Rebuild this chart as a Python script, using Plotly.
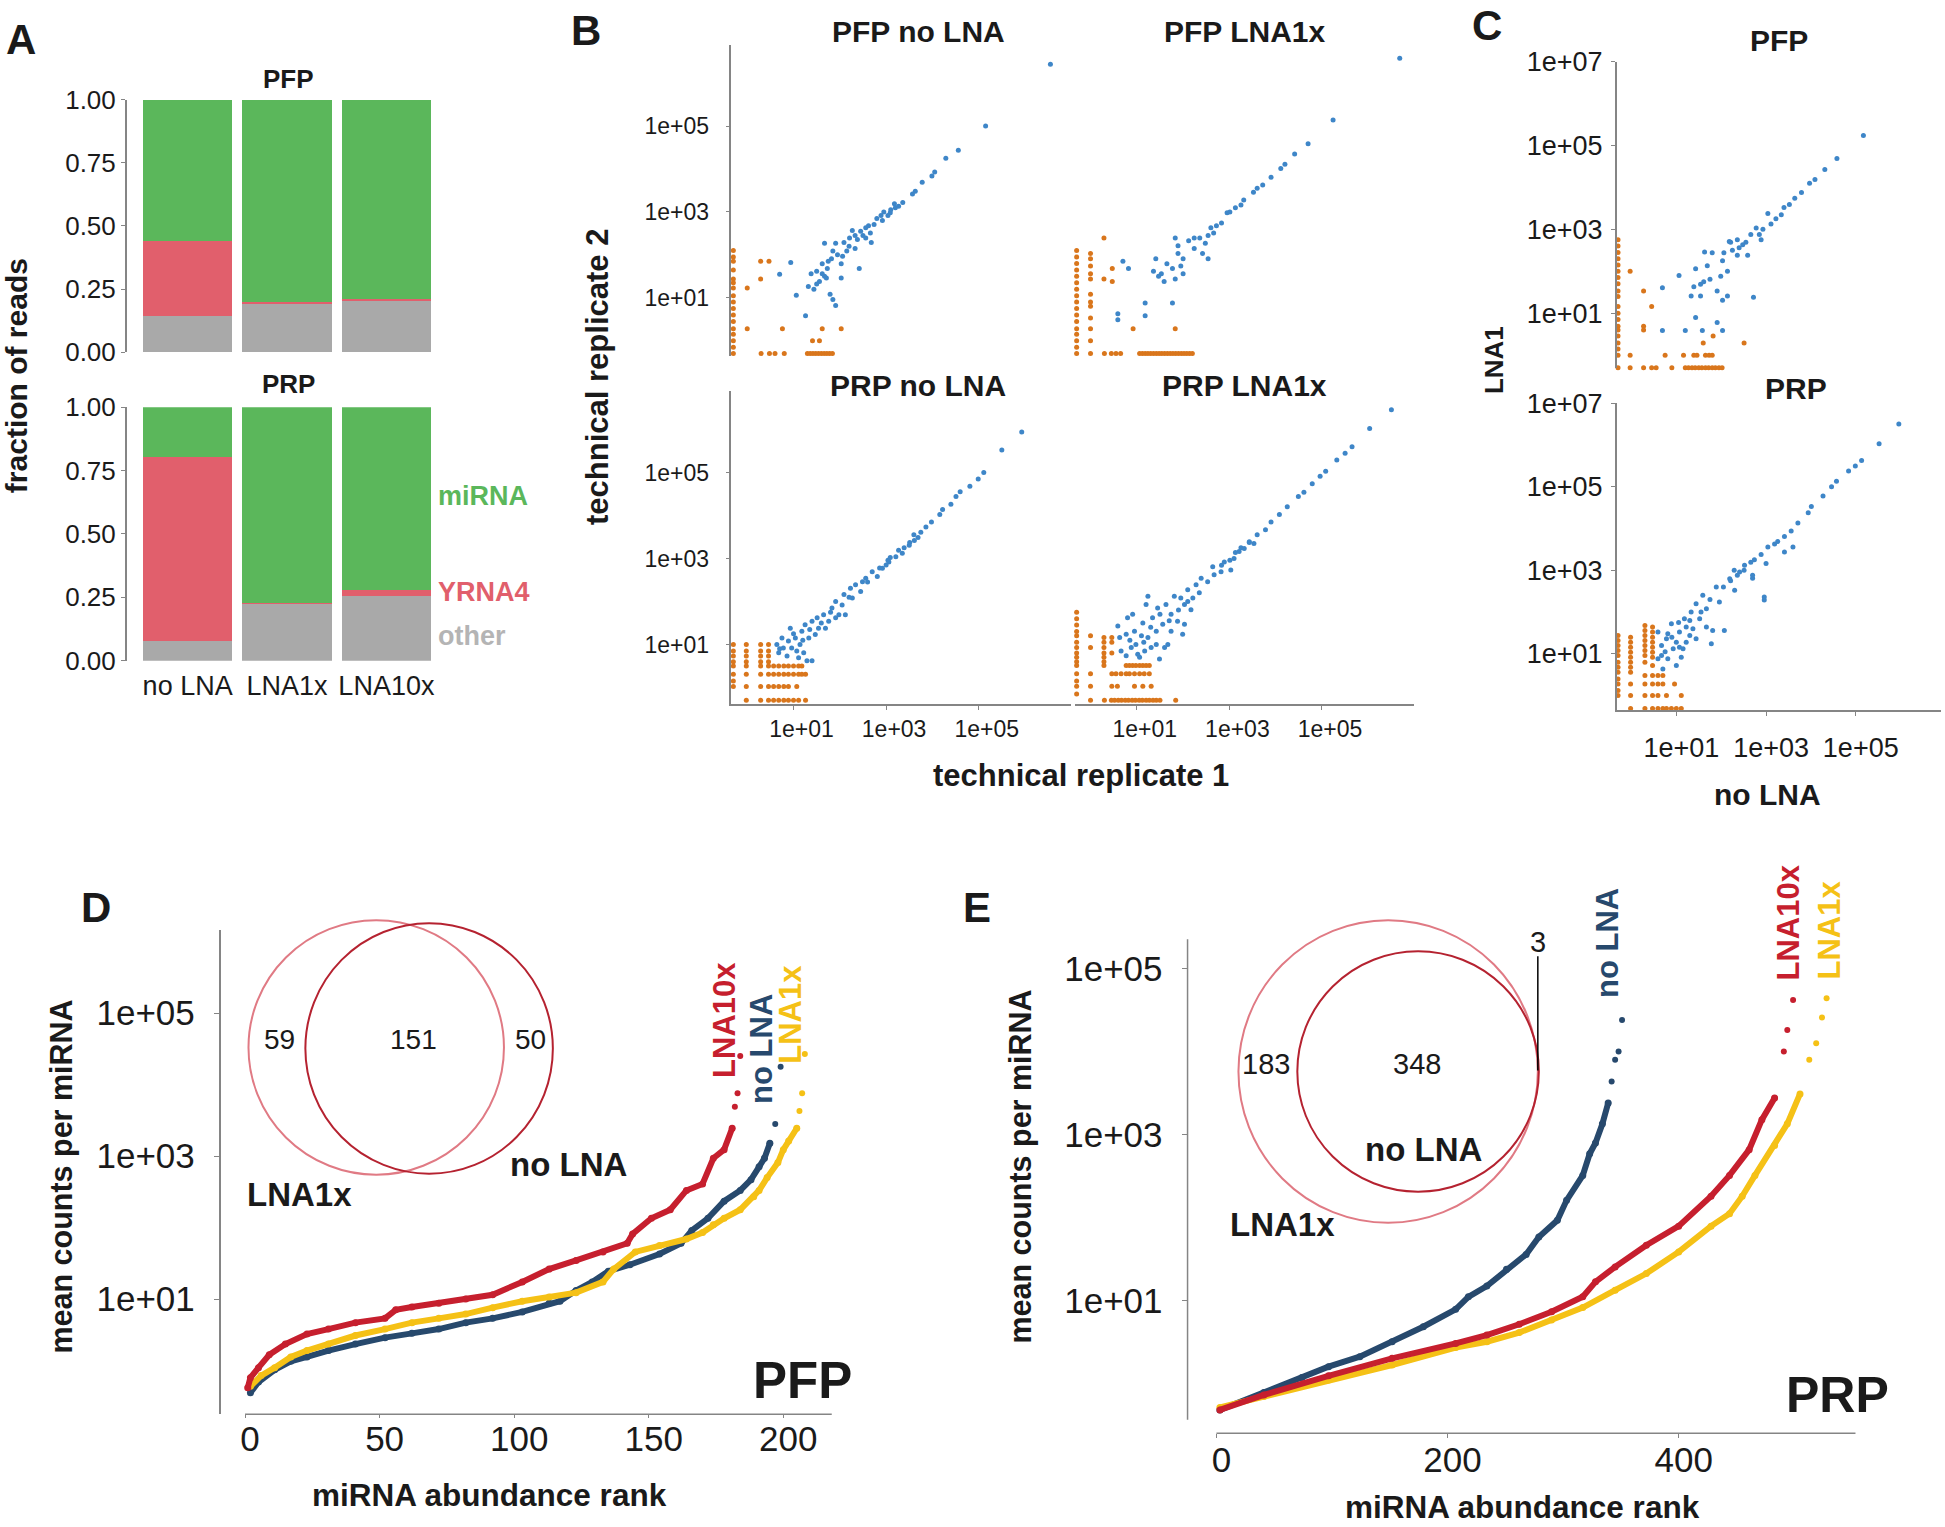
import plotly.graph_objects as go

W, H = 1945, 1527
# the page is photographed with a slight vertical squeeze; map target pixel rows to paper units
Y_OFF, Y_SCALE = 16.5, 0.9785
def px(x): return x / W
def py(y): return 1 - (y - Y_OFF) / (Y_SCALE * H)

MAIN = "Liberation Sans, Arial, Helvetica, sans-serif"
INK = "#1a1a1a"
AXC = "#858585"
GREEN = "#5BB75B"; PINK = "#E15F6C"; GREY = "#A9A9A9"; GREY_TXT = "#B4B4B4"
BLUE_PT = "#3E86C8"; ORANGE_PT = "#D9761C"
C_RED = "#C61F2E"; C_NAVY = "#27496D"; C_YEL = "#F5C116"
VENN_LIGHT = "#E07A84"; VENN_DARK = "#B52230"

# ---------------- data ----------------
A_CATS = ["no LNA", "LNA1x", "LNA10x"]
A_PFP_OTHER = [0.145, 0.195, 0.207]
A_PFP_YRNA4 = [0.297, 0.003, 0.003]
A_PFP_MIRNA = [0.558, 0.802, 0.790]
A_PRP_OTHER = [0.076, 0.224, 0.255]
A_PRP_YRNA4 = [0.729, 0.003, 0.023]
A_PRP_MIRNA = [0.195, 0.773, 0.722]

LOG_TICKS_B = [10, 1000, 100000]
LOG_TEXT_B = ["1e+01", "1e+03", "1e+05"]
LOG_TICKS_C = [10, 1000, 100000, 10000000]
LOG_TEXT_C = ["1e+01", "1e+03", "1e+05", "1e+07"]

# log10 values (x, y); zero counts sit at the -0.3 edge
B_TL_BLUE = [(6.55,6.44),(5.15,5.0),(4.56,4.44),(4.29,4.25),(4.05,3.93),(3.99,3.84),(3.78,3.69),(3.63,3.48),
             (3.57,3.42),(3.36,3.22),(3.27,3.13),(3.18,3.19),(3.09,2.98),(3.04,2.92),(2.89,2.92),(2.92,2.8),
             (2.74,2.71),(2.56,2.63),(2.66,2.51),(2.5,2.45),(2.38,2.36),(2.33,2.15),(2.21,2.39),(2.15,2.09),
             (2.06,1.97),(2.03,1.79),(1.91,2.27),(1.85,2.09),(1.82,1.91),(1.73,1.68),(1.67,1.5),(1.62,1.79),
             (1.56,1.38),(1.5,1.32),(1.44,1.2),(1.62,1.56),(1.85,0.96),(1.91,0.82),(1.79,1.08),(1.67,2.27),
             (1.38,1.56),(1.06,1.06),(1.26,0.58),(0.94,1.82),(0.7,1.55),(2.42,1.68),(2.56,2.39),(2.27,2.57),
             (2.68,2.29),(2.03,1.46),(1.71,1.46),(1.5,1.62),(1.32,1.26),(2.09,2.29),(2.33,2.45),(2.62,2.68),
             (3.1,3.05),(2.8,2.85),(2.45,2.55),(2.2,2.2),(1.95,2.0),(1.75,1.85),(2.95,3.0),(3.2,3.1)]
B_TL_OR_ROWS = [(2.1,[-0.3]),(1.95,[-0.3]),(1.85,[-0.3,0.29,0.47]),(1.65,[-0.3]),(1.44,[-0.3,0.29]),
                (1.35,[-0.3]),(1.23,[-0.3,0.0]),(1.05,[-0.3]),(0.9,[-0.3]),(0.75,[-0.3]),(0.6,[-0.3]),
                (0.45,[-0.3]),(0.28,[-0.3,0.0,0.76,1.62,2.03]),(0.15,[-0.3]),(0.0,[-0.3,1.41,1.56]),
                (-0.15,[-0.3]),
                (-0.3,[-0.3,0.3,0.48,0.6,0.8,1.3,1.36,1.42,1.48,1.54,1.6,1.66,1.72,1.78,1.84])]

B_TR_BLUE = [(6.68,6.58),(5.24,5.14),(4.7,4.59),(4.41,4.35),(4.2,4.11),(4.11,4.01),(3.9,3.81),(3.72,3.63),
             (3.6,3.55),(3.52,3.46),(3.31,3.28),(3.25,3.16),(3.13,3.1),(2.95,2.98),(3.01,3.0),(2.83,2.74),
             (2.72,2.68),(2.6,2.63),(2.54,2.45),(2.66,2.51),(2.48,2.27),(2.36,2.39),(2.24,2.39),(2.42,2.03),
             (2.54,1.91),(2.24,2.15),(2.0,1.91),(1.89,2.03),(1.83,2.39),(1.77,1.68),(1.65,1.79),(1.53,1.56),
             (1.41,1.91),(1.36,1.62),(2.0,1.56),(1.83,1.44),(1.59,1.38),(1.47,1.5),(1.77,0.88),(1.18,0.88),
             (1.18,0.58),(0.59,0.63),(0.59,0.49),(0.82,1.68),(0.7,1.85),(1.95,1.74),(2.12,2.33),(1.89,2.21)]
B_TR_OR_ROWS = [(2.39,[0.29]),(2.1,[-0.3]),(2.03,[0.0]),(1.95,[-0.3]),(1.91,[0.0]),(1.8,[-0.3]),(1.74,[0.0]),
                (1.68,[0.47]),(1.65,[-0.3]),(1.56,[0.0]),(1.5,[-0.3]),(1.44,[0.0,0.29]),(1.38,[0.47]),
                (1.35,[-0.3]),(1.2,[-0.3]),(1.08,[0.0]),(1.05,[-0.3]),(0.9,[-0.3,0.0]),(0.8,[0.0]),
                (0.75,[-0.3]),(0.6,[-0.3]),(0.53,[0.0]),(0.45,[-0.3]),(0.28,[-0.3,0.0,0.92,1.83]),
                (0.15,[-0.3]),(0.0,[-0.3,0.0]),(-0.15,[-0.3]),
                (-0.3,[-0.3,0.0,0.3,0.45,0.55,0.65,1.06,1.12,1.18,1.24,1.3,1.36,1.42,1.48,1.54,1.6,1.66,
                       1.72,1.78,1.84,1.9,1.96,2.02,2.08,2.14,2.2])]

B_BL_BLUE = [(5.93,5.94),(5.5,5.52),(5.11,5.0),(4.99,4.85),(4.81,4.68),(4.51,4.44),(4.4,4.26),(4.22,4.14),
             (3.98,3.85),(3.86,3.73),(3.75,3.61),(3.51,3.37),(3.39,3.25),(3.09,3.02),(3.04,2.96),(2.86,2.78),
             (3.27,3.19),(3.69,3.49),(4.16,4.02),(3.6,3.55),(4.6,4.55),
             (0.64,1.0),(0.68,0.81),(0.78,0.92),(0.89,1.08),(0.93,1.38),(1.04,1.15),(1.07,0.85),(1.14,1.0),
             (1.18,1.31),(1.25,1.46),(1.33,1.15),(1.4,1.54),(1.4,0.62),(1.29,0.62),(1.51,1.62),(1.54,1.38),
             (1.65,1.69),(1.76,1.54),(1.83,1.85),(1.91,2.0),(1.98,1.69),(2.09,2.16),(2.12,1.69),(2.23,2.31),
             (2.34,2.39),(2.45,2.23),(2.56,2.54),(2.7,2.69),(2.81,2.58),(2.92,2.77),(3.06,2.92),(3.21,3.04),
             (3.35,3.12),(3.5,3.31),(3.61,3.42),(0.96,0.92),(0.86,0.73),(0.75,1.15),(1.11,0.69),(1.22,0.81),
             (1.47,1.23),(1.69,1.38),(2.05,1.92),(1.91,1.62),(2.49,2.46),(2.27,2.08),(0.7,0.9),(1.0,1.25),
             (1.2,1.1),(1.35,1.35),(1.6,1.5),(1.8,1.75),(2.2,2.1),(2.6,2.45),(3.0,2.85)]
B_BL_OR_ROWS = [(1.0,[-0.3,-0.02,0.29,0.46]),(0.85,[-0.3,-0.02,0.29,0.46]),(0.73,[-0.3,-0.02,0.29,0.46]),
                (0.6,[-0.3,-0.02,0.29,0.46]),
                (0.5,[-0.3,-0.02,0.29,0.46,0.57,0.68,0.79,0.89,1.0,1.11,1.18]),
                (0.31,[-0.3,-0.02,0.29,0.46,0.57,0.68,0.79,0.89,1.0,1.11,1.18,1.26]),
                (0.15,[-0.3]),
                (0.02,[-0.3,-0.02,0.29,0.46,0.57,0.68,0.79,0.89,1.07]),
                (-0.3,[-0.02,0.29,0.46,0.57,0.68,0.79,0.89,1.0,1.11,1.26])]

B_BR_BLUE = [(6.5,6.46),(6.03,6.02),(5.65,5.6),(5.5,5.45),(5.32,5.29),(5.08,5.03),(4.96,4.91),(4.79,4.74),
             (4.61,4.54),(4.49,4.44),(4.25,4.2),(4.08,4.02),(3.9,3.85),(3.78,3.67),(3.6,3.55),(3.43,3.37),
             (3.25,3.25),(3.13,3.14),(3.01,2.96),(2.83,2.84),
             (0.59,1.43),(0.63,1.16),(0.66,0.85),(0.77,0.74),(0.8,1.62),(0.91,1.7),(0.95,1.31),(0.98,1.0),
             (1.06,0.7),(1.13,1.5),(1.2,1.93),(1.24,1.16),(1.34,1.62),(1.42,1.31),(1.49,0.66),(1.45,1.85),
             (1.56,1.47),(1.63,1.93),(1.67,1.0),(1.74,1.7),(1.81,2.12),(1.88,1.54),(1.95,2.08),(1.99,1.24),
             (2.03,1.93),(2.1,2.27),(2.17,1.81),(2.21,2.08),(2.28,2.39),(2.35,2.2),(2.39,2.54),(2.53,2.46),
             (2.64,2.81),(2.67,2.62),(2.82,2.69),(2.89,2.92),(3.03,2.73),(3.1,3.0),(3.21,3.16),(3.32,3.23),
             (3.43,3.39),(3.53,3.35),(0.88,0.93),(1.02,0.77),(1.31,0.93),(1.17,0.85),(0.77,1.24),(1.42,1.0),
             (1.24,2.12),(1.6,0.93),(1.74,1.31),(2.03,1.47),(1.1,1.2),(1.3,1.4),(1.5,1.7),(1.7,1.55),
             (1.9,1.8),(2.1,2.0),(0.85,1.1),(1.15,1.05)]
B_BR_OR_ROWS = [(1.75,[-0.3]),(1.6,[-0.3]),(1.45,[-0.3]),(1.3,[-0.3]),(1.2,[-0.3,0.0]),(1.16,[0.29,0.46]),
                (1.05,[-0.3,0.29,0.46]),(0.93,[-0.3,0.0,0.29]),(0.8,[-0.3,0.29,0.46]),(0.7,[-0.3,0.29]),
                (0.6,[-0.3,0.29]),(0.51,[-0.3,0.29,0.77,0.84,0.91,0.98,1.06,1.13,1.2,1.27]),
                (0.32,[-0.3,0.0,0.46,0.55,0.66,0.77,0.84,0.95,1.06,1.16,1.27]),(0.15,[-0.3]),
                (0.03,[-0.3,0.0,0.46,0.58,0.95,1.13,1.31]),(-0.15,[-0.3]),
                (-0.3,[0.0,0.3,0.45,0.52,0.6,0.67,0.75,0.82,0.9,0.97,1.05,1.12,1.2,1.27,1.35,1.42,1.5,1.84])]

C_TOP_BLUE = [(5.17,5.24),(4.58,4.69),(4.31,4.43),(4.09,4.19),(3.97,4.1),(3.79,3.88),(3.64,3.74),(3.52,3.59),
              (3.4,3.52),(3.34,3.35),(3.22,3.25),(3.11,3.13),(3.04,3.38),(2.93,3.0),(2.85,2.88),(2.89,2.75),
              (2.78,3.03),(2.66,2.88),(2.55,2.69),(2.48,2.63),(2.4,2.56),(2.36,2.38),(2.21,2.69),(2.18,2.71),
              (2.25,2.5),(2.06,2.44),(2.03,2.25),(2.14,2.0),(1.99,1.88),(1.8,2.44),(1.63,2.46),(1.69,2.13),
              (1.54,1.69),(1.61,1.75),(1.75,1.81),(1.39,1.63),(1.43,2.06),(1.33,1.41),(1.54,1.41),(1.91,1.53),
              (2.03,1.31),(2.14,1.41),(2.72,1.38),(1.43,0.9),(1.58,0.59),(1.91,0.78),(2.03,0.59),(1.2,0.59),
              (0.69,0.59),(0.69,1.61),(1.06,1.9),(2.59,2.38),(2.36,2.75)]
C_TOP_OR_ROWS = [(2.75,[-0.3]),(2.6,[-0.3]),(2.45,[-0.3]),(2.3,[-0.3]),(2.15,[-0.3]),(2.0,[-0.3,-0.03]),
                 (1.85,[-0.3]),(1.7,[-0.3]),(1.53,[-0.3,0.27]),(1.4,[-0.3]),(1.16,[-0.3,0.45]),(1.0,[-0.3]),
                 (0.85,[-0.3]),(0.69,[-0.3,0.27]),(0.6,[-0.3,0.27]),(0.46,[-0.3,1.82]),(0.29,[-0.3,1.6,2.51]),
                 (0.15,[-0.3]),(0.0,[-0.3,-0.03,0.75,1.16,1.39,1.46,1.65,1.73,1.8]),
                 (-0.3,[-0.3,-0.03,0.27,0.45,0.55,0.9,1.2,1.27,1.35,1.42,1.5,1.57,1.65,1.72,1.8,1.87,1.95,2.02])]

C_BOT_BLUE = [(5.96,6.5),(5.52,6.03),(5.13,5.63),(4.99,5.5),(4.84,5.38),(4.57,5.13),(4.46,5.0),(4.27,4.78),
              (4.01,4.53),(3.94,4.38),(3.71,4.13),(3.56,3.94),(3.41,3.81),(3.26,3.69),(3.19,3.63),(3.04,3.56),
              (2.89,3.38),(2.74,3.25),(2.66,3.19),(2.51,3.0),(2.36,2.88),(2.21,2.75),(3.6,3.56),(3.41,3.44),
              (2.29,3.0),(2.96,2.29),(2.7,2.81),
              (0.59,1.52),(0.59,0.88),(0.67,1.2),(0.7,0.64),(0.78,1.36),(0.81,0.88),(0.89,1.72),(0.93,1.12),
              (1.0,0.72),(1.07,1.52),(1.11,0.92),(1.18,1.84),(1.22,1.28),(1.33,2.0),(1.37,1.6),(1.44,2.2),
              (1.52,1.84),(1.59,2.4),(1.67,2.08),(1.78,1.24),(1.81,1.56),(1.89,2.6),(1.96,2.24),(2.07,1.56),
              (2.19,2.8),(2.3,2.52),(2.41,2.96),(2.52,3.12),(2.7,2.88),(2.96,2.36),(3.0,3.16),(0.81,1.48),
              (1.0,1.28),(1.15,1.12),(1.3,1.44),(1.44,1.36),(1.07,1.16),(1.67,1.64),(1.22,1.64),(0.67,0.96),
              (0.75,1.05),(0.9,1.4),(1.05,1.75),(1.3,1.8),(1.55,2.0),(1.75,2.3),(2.05,2.6)]
C_BOT_OR_ROWS = [(1.68,[0.3]),(1.64,[0.47]),(1.56,[0.3]),(1.52,[0.47]),(1.44,[-0.3,0.3]),(1.4,[-0.02,0.47]),
                 (1.32,[-0.3,0.3]),(1.28,[-0.02,0.47]),(1.2,[-0.3,0.3]),(1.16,[-0.02,0.47]),(1.08,[-0.3,0.3]),
                 (1.04,[-0.02,0.47]),(0.96,[-0.3,0.3]),(0.92,[-0.02,0.47]),(0.8,[-0.3,-0.02,0.3]),
                 (0.72,[0.47]),(0.68,[-0.3,-0.02]),(0.56,[-0.3,-0.02]),(0.48,[0.3,0.47,0.59,0.7]),
                 (0.4,[-0.3]),(0.28,[-0.3,-0.02,0.3,0.47,0.59,0.7,0.96]),(0.12,[-0.3]),
                 (0.0,[-0.3,-0.02,0.3,0.47,0.59,0.78,1.11]),
                 (-0.31,[-0.02,0.3,0.47,0.59,0.7,0.78,0.89,1.0,1.11])]

# D (PFP): rank vs log10(mean counts)
D_RED_RANK = [1,2,5,9,15,23,31,41,52,56,62,72,82,92,103,113,123,133,142,144,151,158,164,170,174,178,181,182,183,184]
D_RED_LOG = [-0.24,-0.1,0.04,0.22,0.37,0.51,0.58,0.67,0.73,0.85,0.89,0.94,1.0,1.06,1.24,1.42,1.54,1.66,1.78,1.91,
             2.13,2.25,2.52,2.61,2.97,3.09,3.39,3.69,3.88,4.4]
D_NAVY_RANK = [2,5,11,17,23,31,41,52,62,72,82,92,103,113,117,123,129,135,143,154,162,166,172,178,184,188,191,193,195,197,199]
D_NAVY_LOG = [-0.31,-0.16,0.01,0.13,0.19,0.28,0.37,0.46,0.52,0.58,0.67,0.73,0.82,0.94,0.97,1.12,1.24,1.39,1.48,
              1.63,1.78,1.96,2.13,2.37,2.52,2.67,2.85,2.97,3.18,3.45,4.25]
D_YEL_RANK = [2,6,11,17,23,31,41,52,62,72,82,92,103,113,123,133,137,145,154,164,170,174,178,184,189,191,194,198,200,202,205,206,207,208]
D_YEL_LOG = [-0.22,-0.07,0.04,0.19,0.28,0.37,0.49,0.58,0.67,0.73,0.79,0.88,0.97,1.03,1.09,1.24,1.42,1.66,1.75,
             1.84,1.93,2.04,2.13,2.25,2.43,2.52,2.7,2.91,3.09,3.21,3.39,3.63,3.88,4.43]

# E (PRP)
E_NAVY_RANK = [3,41,74,97,124,152,179,207,218,234,251,268,279,295,303,317,323,328,334,339,342,345,348,351]
E_NAVY_LOG = [-0.31,-0.1,0.08,0.21,0.33,0.51,0.69,0.9,1.05,1.18,1.38,1.56,1.77,1.97,2.21,2.51,2.77,2.9,3.13,
              3.38,3.64,3.9,4.0,4.38]
E_RED_RANK = [3,41,97,152,207,234,262,290,317,328,345,372,400,428,444,461,472,483,491,494,499]
E_RED_LOG = [-0.31,-0.13,0.1,0.31,0.49,0.59,0.72,0.87,1.05,1.23,1.41,1.67,1.9,2.26,2.51,2.82,3.18,3.44,4.0,4.26,4.62]
E_YEL_RANK = [3,41,97,152,207,234,262,290,317,345,372,400,428,444,455,466,483,494,505,513,519,524,528]
E_YEL_LOG = [-0.28,-0.15,0.05,0.23,0.44,0.51,0.62,0.77,0.92,1.13,1.33,1.59,1.9,2.05,2.26,2.51,2.87,3.13,3.49,
             3.9,4.1,4.41,4.64]

# ---------------- figure ----------------
fig = go.Figure()

def bars(xa, ya, other, yrna, mirna):
    for vals, col in ((other, GREY), (yrna, PINK), (mirna, GREEN)):
        fig.add_trace(go.Bar(x=A_CATS, y=vals, marker=dict(color=col, line=dict(width=0)),
                             width=0.9, xaxis=xa, yaxis=ya))

bars("x", "y", A_PFP_OTHER, A_PFP_YRNA4, A_PFP_MIRNA)
bars("x2", "y2", A_PRP_OTHER, A_PRP_YRNA4, A_PRP_MIRNA)

def scat(xa, ya, blue, rows):
    ox, oy = [], []
    for yv, xs in rows:
        for xv in xs:
            ox.append(10 ** xv); oy.append(10 ** yv)
    fig.add_trace(go.Scatter(x=ox, y=oy, mode="markers", marker=dict(color=ORANGE_PT, size=5),
                             xaxis=xa, yaxis=ya, cliponaxis=False))
    fig.add_trace(go.Scatter(x=[10 ** a for a, b in blue], y=[10 ** b for a, b in blue], mode="markers",
                             marker=dict(color=BLUE_PT, size=5), xaxis=xa, yaxis=ya, cliponaxis=False))

scat("x3", "y3", B_TL_BLUE, B_TL_OR_ROWS)
scat("x4", "y4", B_TR_BLUE, B_TR_OR_ROWS)
scat("x5", "y5", B_BL_BLUE, B_BL_OR_ROWS)
scat("x6", "y6", B_BR_BLUE, B_BR_OR_ROWS)
scat("x7", "y7", C_TOP_BLUE, C_TOP_OR_ROWS)
scat("x8", "y8", C_BOT_BLUE, C_BOT_OR_ROWS)

def curve(xa, ya, ranks, logs, color, tail):
    n = len(ranks) - tail
    vals = [10 ** v for v in logs]
    fig.add_trace(go.Scatter(x=ranks[:n + 1], y=vals[:n + 1], mode="lines+markers",
                             line=dict(color=color, width=6), marker=dict(color=color, size=7),
                             xaxis=xa, yaxis=ya, cliponaxis=False))
    fig.add_trace(go.Scatter(x=ranks[n:], y=vals[n:], mode="markers", marker=dict(color=color, size=6),
                             xaxis=xa, yaxis=ya, cliponaxis=False))

curve("x9", "y9", D_NAVY_RANK, D_NAVY_LOG, C_NAVY, 3)
curve("x9", "y9", D_YEL_RANK, D_YEL_LOG, C_YEL, 4)
curve("x9", "y9", D_RED_RANK, D_RED_LOG, C_RED, 4)
curve("x10", "y10", E_NAVY_RANK, E_NAVY_LOG, C_NAVY, 5)
curve("x10", "y10", E_YEL_RANK, E_YEL_LOG, C_YEL, 5)
curve("x10", "y10", E_RED_RANK, E_RED_LOG, C_RED, 4)

# ---------------- axes ----------------
def xdom(a, b): return [px(a), px(b)]
def ydom(bottom, top): return [py(bottom), py(top)]

base = dict(showgrid=False, zeroline=False, linecolor=AXC, linewidth=1.5, tickcolor=AXC)

def hidden(**kw):
    d = dict(base, showline=False, ticks="", showticklabels=False); d.update(kw); return d

def shown(**kw):
    d = dict(base, showline=True, ticks="outside", ticklen=4, showticklabels=True); d.update(kw); return d

lay = dict(width=W, height=H, margin=dict(l=0, r=0, t=0, b=0), autosize=False,
           plot_bgcolor="white", paper_bgcolor="white", showlegend=False, barmode="stack")

A_YT = dict(tickvals=[0, 0.25, 0.5, 0.75, 1], ticktext=["0.00", "0.25", "0.50", "0.75", "1.00"],
            tickfont=dict(family=MAIN, size=26, color=INK), range=[0, 1])
A_XR = [-0.613, 2.45]
lay["xaxis"] = hidden(domain=xdom(127, 432), range=A_XR, type="category", anchor="y")
lay["yaxis"] = shown(domain=ydom(353, 101), anchor="x", **A_YT)
lay["xaxis2"] = hidden(domain=xdom(127, 432), range=A_XR, type="category", anchor="y2",
                       showticklabels=True, tickfont=dict(family=MAIN, size=27, color=INK),
                       ticklabelstandoff=6)
lay["yaxis2"] = shown(domain=ydom(661, 408), anchor="x2", **A_YT)

BT = dict(type="log", tickvals=LOG_TICKS_B, ticktext=LOG_TEXT_B, tickfont=dict(family=MAIN, size=23, color=INK))
XR = [-0.34, 6.99]
lay["xaxis3"] = hidden(domain=xdom(733, 1073), range=XR, anchor="y3", type="log")
lay["yaxis3"] = shown(domain=ydom(357, 46), range=[-0.36, 6.9], anchor="x3", ticklabelstandoff=12, **BT)
lay["xaxis4"] = hidden(domain=xdom(1077, 1417), range=XR, anchor="y4", type="log")
lay["yaxis4"] = hidden(domain=ydom(357, 46), range=[-0.36, 6.9], anchor="x4", type="log")
lay["xaxis5"] = shown(domain=xdom(733, 1073), range=XR, anchor="y5", ticklabelstandoff=0, ticklabelshift=8, **BT)
lay["yaxis5"] = shown(domain=ydom(704, 392), range=[-0.38, 6.89], anchor="x5", ticklabelstandoff=12, **BT)
lay["xaxis6"] = shown(domain=xdom(1077, 1417), range=XR, anchor="y6", ticklabelstandoff=0, ticklabelshift=8, **BT)
lay["yaxis6"] = hidden(domain=ydom(704, 392), range=[-0.38, 6.89], anchor="x6", type="log")

CT = dict(type="log", tickvals=LOG_TICKS_C, ticktext=LOG_TEXT_C, tickfont=dict(family=MAIN, size=27, color=INK))
lay["xaxis7"] = hidden(domain=xdom(1620, 1945), range=[-0.33, 6.9], anchor="y7", type="log")
lay["yaxis7"] = shown(domain=ydom(369, 63), range=[-0.31, 7.0], anchor="x7", ticklabelstandoff=3, **CT)
lay["xaxis8"] = shown(domain=xdom(1620, 1945), range=[-0.33, 6.9], anchor="y8", ticklabelstandoff=9,
                      ticklabelshift=5, **CT)
lay["yaxis8"] = shown(domain=ydom(710, 404), range=[-0.34, 7.0], anchor="x8", ticklabelstandoff=3, **CT)

DT = dict(tickfont=dict(family=MAIN, size=35, color=INK))
lay["xaxis9"] = shown(domain=xdom(221, 834), range=[-9.1, 218.2], anchor="y9", showline=False,
                      tickvals=[0, 50, 100, 150, 200], ticklen=3, ticklabelstandoff=-9, ticklabelshift=5, **DT)
lay["yaxis9"] = shown(domain=ydom(1413, 930), range=[-0.61, 6.16], anchor="x9", type="log", ticklen=5,
                      tickvals=LOG_TICKS_B, ticktext=LOG_TEXT_B, ticklabelstandoff=12, **DT)
lay["xaxis10"] = shown(domain=xdom(1190, 1860), range=[-25.0, 553.6], anchor="y10", showline=False,
                       tickvals=[0, 200, 400], ticklen=4, ticklabelstandoff=-8, ticklabelshift=5, **DT)
lay["yaxis10"] = shown(domain=ydom(1432, 939), range=[-0.59, 5.35], anchor="x10", type="log", showline=False,
                       ticklen=5, tickvals=LOG_TICKS_B, ticktext=LOG_TEXT_B, ticklabelstandoff=12, **DT)

shapes = [
    dict(type="line", xref="x9", yref="y9 domain", x0=0, x1=218, y0=0, y1=0, line=dict(color=AXC, width=1.5)),
    dict(type="line", xref="x10", yref="y10 domain", x0=0, x1=553, y0=0, y1=0, line=dict(color=AXC, width=1.5)),
    dict(type="line", xref="x10 domain", yref="y10 domain", x0=0, x1=0, y0=0.027, y1=1,
         line=dict(color=AXC, width=1.5)),
]

def circle(cx, cy, rx, ry, col):
    shapes.append(dict(type="circle", xref="paper", yref="paper", x0=px(cx - rx), x1=px(cx + rx),
                       y0=py(cy + ry), y1=py(cy - ry), line=dict(color=col, width=2)))

circle(377, 1047, 128, 127, VENN_LIGHT)
circle(430, 1048, 124, 125, VENN_DARK)
circle(1391, 1071, 150, 151, VENN_LIGHT)
circle(1421, 1071, 121, 120, VENN_DARK)
shapes.append(dict(type="line", xref="paper", yref="paper", x0=px(1541), x1=px(1541), y0=py(956), y1=py(1070),
                   line=dict(color="black", width=1.5)))
lay["shapes"] = shapes

anns = []
def ann(text, x, y, size, color=INK, bold=True, angle=0, xanchor="center"):
    anns.append(dict(text=("<b>%s</b>" % text) if bold else text, x=px(x), y=py(y), xref="paper",
                     yref="paper", showarrow=False, textangle=angle, xanchor=xanchor, yanchor="middle",
                     font=dict(family=MAIN, size=size, color=color)))

for L, x, y in (("A", 21, 41), ("B", 587, 32), ("C", 1490, 27), ("D", 96, 907), ("E", 979, 907)):
    ann(L, x, y, 42)

ann("PFP", 289, 80, 26); ann("PRP", 289, 385, 26)
ann("fraction of reads", 16, 376, 30, angle=-90)
ann("miRNA", 437, 497, 27, color=GREEN, xanchor="left")
ann("YRNA4", 437, 592, 27, color=PINK, xanchor="left")
ann("other", 437, 636, 27, color=GREY_TXT, xanchor="left")

ann("PFP no LNA", 920, 33, 30); ann("PFP LNA1x", 1247, 33, 30)
ann("PRP no LNA", 920, 386, 30); ann("PRP LNA1x", 1247, 386, 30)
ann("technical replicate 2", 598, 378, 31, angle=-90)
ann("technical replicate 1", 1083, 776, 31)

ann("PFP", 1783, 42, 30); ann("PRP", 1800, 389, 30)
ann("LNA1", 1497, 361, 26, angle=-90)
ann("no LNA", 1771, 795, 30)

ann("mean counts per miRNA", 62, 1176, 30.5, angle=-90)
ann("miRNA abundance rank", 491, 1494, 31.5)
ann("PFP", 804, 1379, 51)
ann("59", 280, 1039, 28, bold=False)
ann("151", 414, 1039, 28, bold=False)
ann("50", 532, 1039, 28, bold=False)
ann("no LNA", 570, 1164, 33)
ann("LNA1x", 300, 1194, 33)
ann("LNA10x", 726, 1020, 31, color=C_RED, angle=-90)
ann("no LNA", 763, 1048, 31, color=C_NAVY, angle=-90)
ann("LNA1x", 792, 1014, 31, color=C_YEL, angle=-90)

ann("mean counts per miRNA", 1023, 1166, 30.5, angle=-90)
ann("miRNA abundance rank", 1526, 1506, 31.5)
ann("PRP", 1841, 1394, 50)
ann("183", 1269, 1064, 29, bold=False)
ann("348", 1420, 1064, 29, bold=False)
ann("3", 1541, 942, 29, bold=False)
ann("no LNA", 1426, 1149, 33)
ann("LNA1x", 1285, 1224, 33)
ann("no LNA", 1611, 943, 31, color=C_NAVY, angle=-90)
ann("LNA10x", 1792, 922, 31, color=C_RED, angle=-90)
ann("LNA1x", 1833, 930, 31, color=C_YEL, angle=-90)
lay["annotations"] = anns

fig.update_layout(**lay)
fig.write_html("out.html", config={"displayModeBar": False},
               post_script="document.body.style.margin='0';")
